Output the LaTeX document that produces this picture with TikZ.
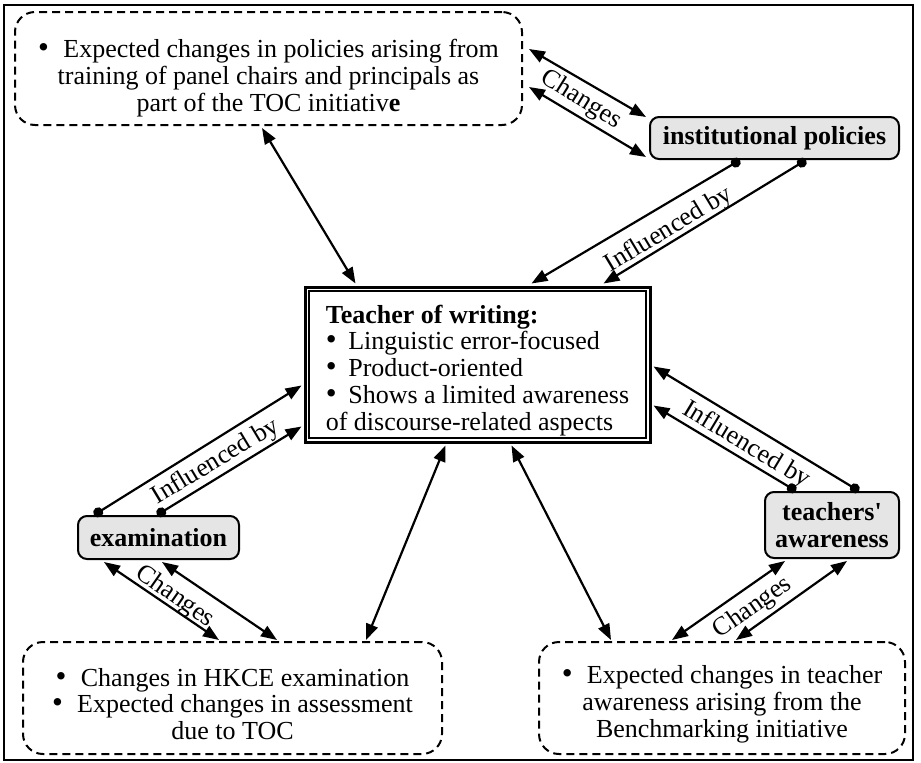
\documentclass[tikz,border=0pt]{standalone}
\usepackage{fontspec}
\setmainfont{Liberation Serif}[Ligatures=TeXOff]
\usetikzlibrary{arrows.meta,calc}
\newcommand{\bul}{{\fontsize{31}{26.8}\selectfont\textbullet}}
\tikzset{
  txt/.style={font=\fontsize{26}{26.8}\selectfont},
  cloudbox/.style={draw, dash pattern=on 8pt off 5pt, line width=2pt, rounded corners=20pt, align=center, txt, inner sep=0pt},
  graybox/.style={draw, fill=black!10, line width=2pt, rounded corners=9pt, align=center, font=\fontsize{26}{26.8}\selectfont\bfseries, inner sep=0pt},
  tri/.tip={Triangle[length=16pt,width=12pt]},
  dot/.tip={Circle[length=10pt]},
  both/.style={line width=2.2pt, tri-tri},
  infl/.style={line width=2.2pt, dot-tri},
  lbl/.style={txt, inner sep=1pt}
}
\begin{document}
\begin{tikzpicture}[x=1pt,y=-1pt]
\useasboundingbox (0,0) rectangle (921,763);
\draw[line width=2pt] (4,5) rectangle (913,760);

% nodes
\node[cloudbox, minimum width=507pt, minimum height=113pt] (tb) at (268.5,68.5)
  {\rule{0pt}{37pt}\bul\hspace{0.55em}Expected changes in policies arising from\\
   training of panel chairs and principals as\\
   part of the TOC initiativ\textbf{e}};
\node[graybox, minimum width=249pt, minimum height=42pt] (ip) at (774.5,138) {institutional policies};
\node[draw, line width=3pt, minimum width=345pt, minimum height=155pt, align=left, inner sep=0pt, txt] (c) at (477.5,364.5)
  {\rule{0pt}{30pt}\textbf{Teacher of writing:}\\
   \bul\hspace{0.45em}Linguistic error-focused\\
   \bul\hspace{0.45em}Product-oriented\\
   \bul\hspace{0.45em}Shows a limited awareness\\
   of discourse-related aspects};
\draw[line width=1.3pt] ($(c.north west)+(5.5,5.5)$) rectangle ($(c.south east)+(-5.5,-5.5)$);
\node[graybox, minimum width=161pt, minimum height=43pt] (ex) at (158.5,537.5) {examination};
\node[graybox, minimum width=134pt, minimum height=66pt] (ta) at (832,525) {teachers'\\awareness};
\node[cloudbox, minimum width=419pt, minimum height=112pt] (bl) at (232.5,698)
  {\rule{0pt}{30pt}\bul\hspace{0.55em}Changes in HKCE examination\\
   \bul\hspace{0.55em}Expected changes in assessment\\
   due to TOC};
\node[cloudbox, minimum width=366pt, minimum height=112pt] (br) at (722,698)
  {\rule{0pt}{30pt}\bul\hspace{0.55em}Expected changes in teacher\\
   awareness arising from the\\
   Benchmarking initiative};

% connectors
\draw[both] ($(tb.south west)+(248,2)$) -- ($(c.north west)+(52,-2)$);
\draw[both] ($(tb.north east)+(6,38)$) -- ($(ip.north west)+(-3,1)$);
\draw[both] ($(tb.north east)+(6,76)$) -- ($(ip.south west)+(-3,-3)$);
\draw[infl] ($(ip.south west)+(91,0)$) -- ($(c.north west)+(228,-2)$);
\draw[infl] ($(ip.south west)+(157,0)$) -- ($(c.north west)+(300,-2)$);
\draw[infl] ($(ex.north west)+(17,0)$) -- ($(c.north west)+(-2,100)$);
\draw[infl] ($(ex.north west)+(80,0)$) -- ($(c.north west)+(-2,141)$);
\draw[infl] ($(ta.north west)+(95,0)$) -- ($(c.north east)+(2,81)$);
\draw[infl] ($(ta.north west)+(32,0)$) -- ($(c.north east)+(2,120)$);
\draw[both] ($(ex.south west)+(27,2)$) -- ($(bl.north west)+(197,-1)$);
\draw[both] ($(ex.south west)+(85,2)$) -- ($(bl.north west)+(255,-1)$);
\draw[both] ($(bl.north west)+(344,-1)$) -- ($(c.south west)+(142,2)$);
\draw[both] ($(br.north west)+(73,-1)$) -- ($(c.south west)+(208,2)$);
\draw[both] ($(br.north west)+(134,-1)$) -- ($(ta.south west)+(21,2)$);
\draw[both] ($(br.north west)+(198,-1)$) -- ($(ta.south west)+(83,2)$);

% labels
\node[lbl, rotate=-32] (l1) at (581,100) {Changes};
\node[lbl, rotate=31] (l2) at (669,230) {Influenced by};
\node[lbl, rotate=31] (l3) at (216,462) {Influenced by};
\node[lbl, rotate=-31] (l4) at (746,445) {Influenced by};
\node[lbl, rotate=-35] (l5) at (175,597) {Changes};
\node[lbl, rotate=35] (l6) at (753,608) {Changes};
\end{tikzpicture}
\end{document}
